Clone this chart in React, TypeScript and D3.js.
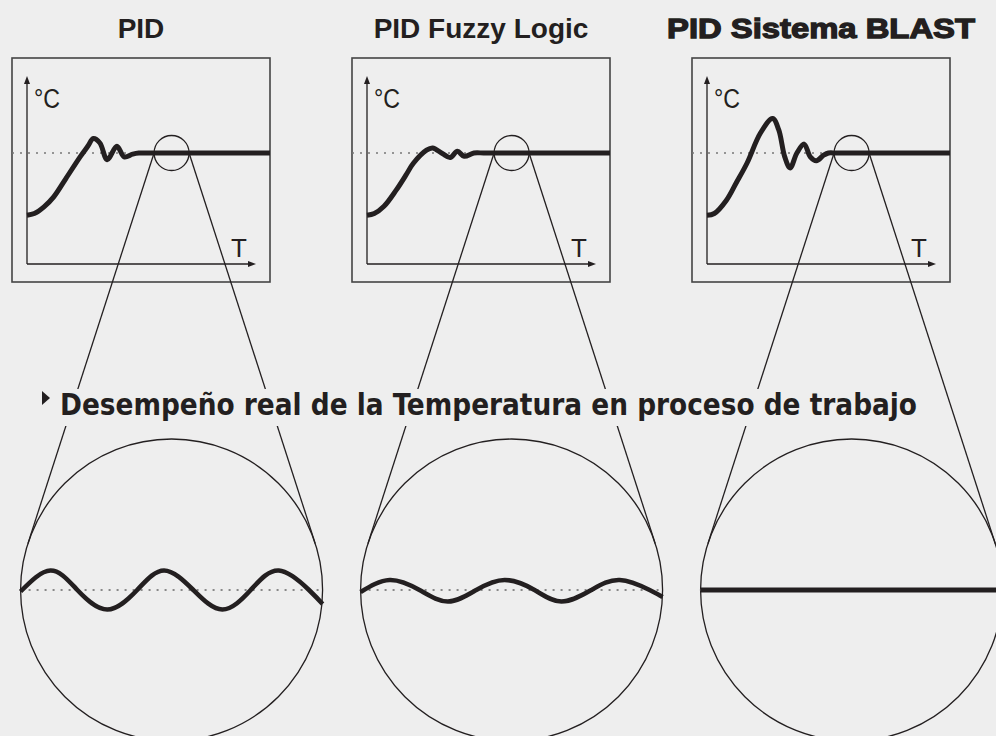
import React from 'react';
import * as d3 from 'd3';

const W = 996;
const H = 736;
const INK = '#231f20';
const BG = '#eeeeee';

const titles = ['PID', 'PID Fuzzy Logic', 'PID Sistema BLAST'];
const heading = 'Desempeño real de la Temperatura en proceso de trabajo';
const yLabel = '°C';
const xLabel = 'T';

// warm-up response, time 0..100, temperature as % of setpoint
const setpoint = 100;
const pidT = [0, 3, 7, 11, 16, 22, 25, 27.3, 30, 33, 37, 40, 43.5, 46, 50, 56, 100];
const pidV = [44, 45.5, 51.5, 60.5, 77, 97, 106, 113, 109, 94, 106, 96.5, 99, 100, 100, 100, 100];
const fuzzyT = [0, 3, 7, 12, 16, 19, 24.5, 27, 31, 34.2, 37.2, 40, 44, 48, 54, 100];
const fuzzyV = [44, 45.5, 52, 66.5, 80, 90.5, 102.5, 104.5, 99.5, 96, 101.5, 97, 100, 100, 100, 100];
const blastT = [0, 3, 8, 12, 16.5, 22, 27, 29.5, 32, 34.2, 37, 40, 42.5, 45, 48, 50, 53, 58, 100];
const blastV = [44, 45.5, 57.5, 73, 91, 118, 131, 121, 96.5, 86.5, 100, 108, 96.5, 93, 98, 100, 100, 100, 100];

// part of the time axis that is magnified
const zoomWindow = [52.3, 66.7];

// magnified steady state: position across the circle 0..100, deviation from setpoint
const pidZoomX = [0, 9.9, 18.8, 28.7, 38.6, 47.5, 57.2, 66.8, 76.2, 85.5, 95.5, 100];
const pidZoomV = [-1.5, 19.5, 0, -19.5, 0, 19.5, 0, -19.5, 0, 19.5, 0, -14];
const fuzzyZoomX = [0, 9.6, 19.5, 28.9, 38.3, 47.7, 57.6, 66.5, 76.4, 85.8, 95.7, 100];
const fuzzyZoomV = [-2, 10, 0, -11.5, 0, 10, 0, -11.5, 0, 10, 0, -7];
const blastZoomX = [0, 100];
const blastZoomV = [0, 0];

const series = [
  { t: pidT, v: pidV, zx: pidZoomX, zv: pidZoomV },
  { t: fuzzyT, v: fuzzyV, zx: fuzzyZoomX, zv: fuzzyZoomV },
  { t: blastT, v: blastV, zx: blastZoomX, zv: blastZoomV },
];

function tangent(px: number, py: number, cx: number, cy: number, r: number, side: number) {
  const d = Math.hypot(cx - px, cy - py);
  const theta = Math.atan2(cy - py, cx - px);
  const a = theta + side * Math.asin(r / d);
  const len = Math.sqrt(d * d - r * r);
  return [px + len * Math.cos(a), py + len * Math.sin(a)];
}

const Panel = ({ title, idx, band }: { title: string; idx: number; band: d3.ScaleBand<string> }) => {
  const s = series[idx];
  const x0 = band(title) as number;
  const box = { x: x0 + 12, y: 58, w: 258, h: 224 };
  const x = d3.scaleLinear().domain([0, 100]).range([x0 + 27, x0 + 270]);
  const y = d3.scaleLinear().domain([0, 100]).range([264, 153]);
  const ax = { x: x0 + 27, y: 264, top: 76, right: x0 + 256 };

  const curve = d3
    .line<number>()
    .x((_, i) => x(s.t[i]))
    .y((d) => y(d))
    .curve(d3.curveCatmullRom.alpha(0.5))(s.v) as string;

  const scx = x((zoomWindow[0] + zoomWindow[1]) / 2);
  const sr = (x(zoomWindow[1]) - x(zoomWindow[0])) / 2;
  const scy = y(setpoint);

  const R = 151;
  const cy = 590;
  const zx = d3.scaleLinear().domain([0, 100]).range([scx - R, scx + R]);
  const zy = d3.scaleLinear().domain([-20, 20]).range([cy + 20, cy - 20]);
  const wave = d3
    .line<number>()
    .x((_, i) => zx(s.zx[i]))
    .y((d) => zy(d))
    .curve(d3.curveNatural)(s.zv) as string;

  const lt = tangent(scx - sr, scy, scx, cy, R, 1);
  const rt = tangent(scx + sr, scy, scx, cy, R, -1);

  const heavy = idx === 2;

  return (
    <g>
      <text
        x={box.x + box.w / 2}
        y={38}
        textAnchor="middle"
        fontFamily="'Liberation Sans', Arial, sans-serif"
        fontWeight="bold"
        fontSize={28}
        fill={INK}
        stroke={heavy ? INK : 'none'}
        strokeWidth={heavy ? 1.3 : 0}
        textLength={heavy ? 308 : undefined}
        lengthAdjust="spacingAndGlyphs"
      >
        {title}
      </text>
      <rect x={box.x} y={box.y} width={box.w} height={box.h} fill="none" stroke="#444" strokeWidth={1.6} />
      <line x1={box.x} x2={x(100)} y1={scy} y2={scy} stroke="#777" strokeWidth={1.6} strokeDasharray="2 6" />
      <line x1={ax.x} y1={ax.y} x2={ax.x} y2={ax.top + 6} stroke={INK} strokeWidth={1.3} />
      <path d={`M${ax.x},${ax.top}L${ax.x - 3},${ax.top + 8}L${ax.x + 3},${ax.top + 8}Z`} fill={INK} />
      <line x1={ax.x} y1={ax.y} x2={ax.right - 6} y2={ax.y} stroke={INK} strokeWidth={1.3} />
      <path d={`M${ax.right},${ax.y}L${ax.right - 8},${ax.y - 3}L${ax.right - 8},${ax.y + 3}Z`} fill={INK} />
      <text x={x0 + 34} y={108} fontFamily="'Liberation Sans', Arial, sans-serif" fontSize={27} fill={INK} textLength={26} lengthAdjust="spacingAndGlyphs">
        {yLabel}
      </text>
      <text x={x0 + 231} y={257} fontFamily="'Liberation Sans', Arial, sans-serif" fontSize={26} fill={INK}>
        {xLabel}
      </text>
      <path d={curve} fill="none" stroke={INK} strokeWidth={5} strokeLinejoin="round" />
      <circle cx={scx} cy={scy} r={sr} fill="none" stroke={INK} strokeWidth={1.3} />
      <line x1={scx - sr} y1={scy} x2={lt[0]} y2={lt[1]} stroke={INK} strokeWidth={1.3} />
      <line x1={scx + sr} y1={scy} x2={rt[0]} y2={rt[1]} stroke={INK} strokeWidth={1.3} />
      <circle cx={scx} cy={cy} r={R} fill="none" stroke={INK} strokeWidth={1.3} />
      <line x1={scx - R} x2={scx + R} y1={cy} y2={cy} stroke="#888" strokeWidth={1.8} strokeDasharray="2 6" />
      <path d={wave} fill="none" stroke={INK} strokeWidth={idx === 2 ? 5 : 4.6} />
    </g>
  );
};

export default function App() {
  const band = d3.scaleBand<string>().domain(titles).range([0, 1020]);
  return (
    <svg width={W} height={H} style={{ position: 'absolute', left: 0, top: 0, display: 'block' }}>
      <rect width={W} height={H} fill={BG} />
      {titles.map((t, i) => (
        <Panel key={t} title={t} idx={i} band={band} />
      ))}
      <rect x={30} y={389} width={900} height={37} fill={BG} />
      <path d="M42,391L50,398L42,405Z" fill={INK} />
      <text
        x={60}
        y={415}
        fontFamily="'Liberation Sans Narrow', 'DejaVu Sans Condensed', 'Liberation Sans', Arial, sans-serif"
        fontWeight="bold"
        fontSize={31}
        fill={INK}
        textLength={857}
        lengthAdjust="spacingAndGlyphs"
      >
        {heading}
      </text>
    </svg>
  );
}
